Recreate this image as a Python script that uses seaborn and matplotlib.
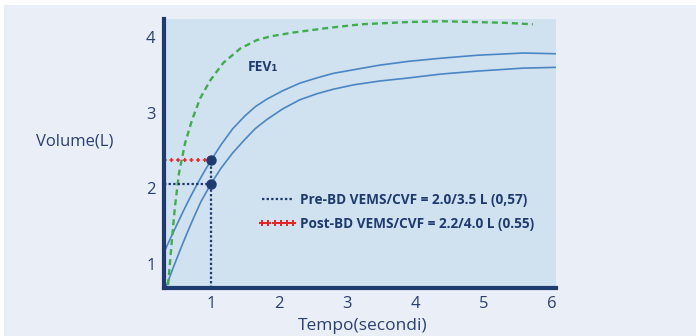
import matplotlib.pyplot as plt
import seaborn as sns
from matplotlib.lines import Line2D
from matplotlib.patches import Rectangle

# values (time in seconds, volume in litres)
time_post = [0.31, 0.4, 0.5, 0.6, 0.7, 0.8, 0.9, 1.0, 1.15, 1.32, 1.5, 1.65, 1.82, 2.05,
             2.3, 2.55, 2.79, 3.1, 3.48, 3.9, 4.36, 4.9, 5.58, 6.06]
vol_post = [1.15, 1.33, 1.52, 1.71, 1.89, 2.06, 2.22, 2.37, 2.58, 2.79, 2.96, 3.08, 3.18, 3.29,
            3.39, 3.46, 3.52, 3.57, 3.63, 3.68, 3.72, 3.76, 3.79, 3.78]

time_pre = [0.34, 0.45, 0.55, 0.65, 0.75, 0.85, 1.0, 1.15, 1.32, 1.5, 1.65, 1.82, 2.05,
            2.3, 2.55, 2.79, 3.1, 3.48, 3.9, 4.36, 4.9, 5.58, 6.06]
vol_pre = [0.70, 0.96, 1.19, 1.41, 1.62, 1.82, 2.06, 2.27, 2.47, 2.65, 2.79, 2.91, 3.05,
           3.17, 3.25, 3.31, 3.37, 3.42, 3.46, 3.51, 3.55, 3.59, 3.60]

time_fev = [0.37, 0.43, 0.47, 0.53, 0.62, 0.72, 0.84, 0.99, 1.18, 1.43, 1.67, 1.87, 2.2,
            2.7, 3.2, 3.9, 4.4, 4.85, 5.3, 5.72]
vol_fev = [0.72, 1.36, 1.75, 2.20, 2.60, 2.90, 3.19, 3.43, 3.66, 3.85, 3.96, 4.01, 4.06,
           4.12, 4.17, 4.20, 4.21, 4.20, 4.19, 4.17]

pre_point = (1.0, 2.06)
post_point = (1.0, 2.37)

x_ticks = [1, 2, 3, 4, 5, 6]
y_ticks = [1, 2, 3, 4]
pre_label = "Pre-BD VEMS/CVF = 2.0/3.5 L (0,57)"
post_label = "Post-BD VEMS/CVF = 2.2/4.0 L (0.55)"

navy = "#1f3a6e"
text_navy = "#2a3f72"
blue = "#4a86c4"
green = "#3fae49"
red = "#e3262b"

sns.set_theme(style="white")
plt.rcParams["font.family"] = ["Open Sans", "DejaVu Sans"]
plt.rcParams["lines.scale_dashes"] = False

fig = plt.figure(figsize=(6.96, 3.36), dpi=100, facecolor="white")
fig.patches.append(Rectangle((4 / 696, 0), 1, 1 - 5 / 336, transform=fig.transFigure,
                             facecolor="#e9eef7", edgecolor="none", zorder=-10))
ax = fig.add_axes([164 / 696, 48 / 336, 392 / 696, 269 / 336])
ax.set_facecolor("#d0e1f0")

x0, x1 = 0.31, 6.06
y0, y1 = 0.68, 4.24

# curves
sns.lineplot(x=time_post, y=vol_post, ax=ax, color=blue, lw=1.2, sort=False)
sns.lineplot(x=time_pre, y=vol_pre, ax=ax, color=blue, lw=1.2, sort=False)
sns.lineplot(x=time_fev, y=vol_fev, ax=ax, color=green, lw=1.7, sort=False,
             linestyle=(0, (4.3, 2.9)))

# pre-BD guide lines
pre_dots = (0, (1.7, 1.6))
pre_line, = ax.plot([x0, pre_point[0]], [pre_point[1]] * 2, color=navy, lw=1.6, ls=pre_dots)
ax.plot([post_point[0]] * 2, [y0, post_point[1]], color=navy, lw=1.6, ls=pre_dots)

# post-BD guide line made of little red crosses (a thick short dash + a thin long dash)
ax.plot([x0, post_point[0]], [post_point[1]] * 2, color=red, lw=2.9,
        ls=(0, (1.1, 3.7)), dash_capstyle="butt")
ax.plot([x0, post_point[0]], [post_point[1]] * 2, color=red, lw=1.1,
        ls=(0.9, (2.9, 1.9)), dash_capstyle="butt")

ax.plot([pre_point[0], post_point[0]], [pre_point[1], post_point[1]], "o",
        color=navy, ms=6.5, zorder=5)

ax.text(1.54, 3.61, "FEV₁", color=navy, fontsize=10, fontweight="bold", va="center")

post_handle = Line2D([], [], color=red, marker="P", ms=4, mew=0, ls="none")
leg = ax.legend([pre_line, post_handle], [pre_label, post_label], numpoints=6,
                loc="upper left", bbox_to_anchor=(0.24, 0.353), frameon=False,
                handlelength=2.9, handletextpad=0.2, labelspacing=0.75,
                borderpad=0, borderaxespad=0, prop={"weight": "bold", "size": 9.8})
for t in leg.get_texts():
    t.set_color(navy)

ax.set_xlim(x0, x1)
ax.set_ylim(y0, y1)
ax.set_xticks(x_ticks)
ax.set_yticks(y_ticks)
ax.tick_params(length=0, labelsize=12, labelcolor=text_navy, pad=6)

for side in ["top", "right"]:
    ax.spines[side].set_visible(False)
for side in ["left", "bottom"]:
    ax.spines[side].set_color(navy)
    ax.spines[side].set_linewidth(3)

ax.set_xlabel("Tempo(secondi)", fontsize=12.5, color=text_navy)
ax.set_ylabel("Volume(L)", fontsize=12, color=text_navy, rotation=0, va="center", ha="center")
ax.xaxis.set_label_coords(0.508, -0.11)
ax.yaxis.set_label_coords(-0.227, 0.543)

fig.savefig("out.png", dpi=100, facecolor=fig.get_facecolor())
